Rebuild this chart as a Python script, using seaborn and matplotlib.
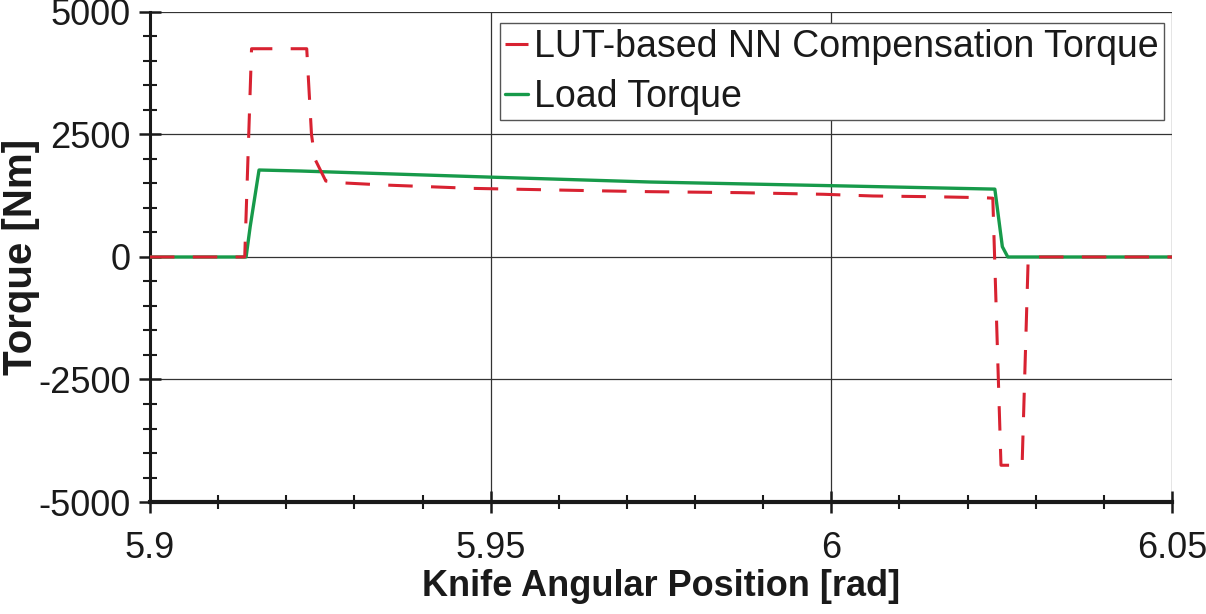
import matplotlib
matplotlib.use("Agg")
import matplotlib.pyplot as plt
from matplotlib.ticker import MultipleLocator
import numpy as np
import pandas as pd
import seaborn as sns

# values
x_lut = [5.9, 5.9139, 5.9149, 5.9230, 5.9237, 5.9242, 5.9258, 5.9279, 5.9342,
         5.9474, 5.9660, 5.9734, 5.9866, 5.9988, 6.0061, 6.0149, 6.0223,
         6.0237, 6.0249, 6.0280, 6.0289, 6.05]
y_lut = [0, 0, 4250, 4250, 2500, 2000, 1550, 1515, 1470,
         1400, 1350, 1333, 1313, 1280, 1245, 1230, 1210,
         1200, -4250, -4250, 0, 0]

x_load = [5.9, 5.9141, 5.9147, 5.9160, 5.9220, 5.9499, 5.9734, 6.0000,
          6.0240, 6.0251, 6.0259, 6.05]
y_load = [0, 0, 620, 1775, 1755, 1630, 1530, 1455,
          1385, 210, 0, 0]

x_tick_labels = ["5.9", "5.95", "6", "6.05"]
lut_label = "LUT-based NN Compensation Torque"
load_label = "Load Torque"

sns.set_style("white")
plt.rcParams["font.family"] = ["Liberation Sans", "DejaVu Sans"]
plt.rcParams["axes.unicode_minus"] = False

fig = plt.figure(figsize=(12.06, 6.14), dpi=100)
ax = fig.add_axes([0.1244, 0.1824, 0.8474, 0.7981])

df_lut = pd.DataFrame({"x": x_lut, "y": y_lut})
df_load = pd.DataFrame({"x": x_load, "y": y_load})

sns.lineplot(data=df_lut, x="x", y="y", ax=ax, color="#d82231", lw=2.2,
             sort=False, estimator=None, label=lut_label, zorder=4)
ax.lines[-1].set_dashes([8, 6])
sns.lineplot(data=df_load, x="x", y="y", ax=ax, color="#179a4a", lw=2.4,
             sort=False, estimator=None, label=load_label, zorder=3)

ax.set_xlim(5.9, 6.05)
ax.set_ylim(-5000, 5000)
ax.set_xticks([5.9, 5.95, 6.0, 6.05])
ax.set_xticklabels(x_tick_labels)
ax.xaxis.set_minor_locator(MultipleLocator(0.01))
ax.yaxis.set_major_locator(MultipleLocator(2500))
ax.yaxis.set_minor_locator(MultipleLocator(500))

ax.grid(True, which="major", color="#333333", lw=0.9, zorder=1)
ax.set_axisbelow(True)

for s in ["top", "right"]:
    ax.spines[s].set_visible(False)
ax.spines["left"].set_linewidth(2.2)
ax.spines["bottom"].set_linewidth(3.0)
ax.spines["left"].set_color("#1a1a1a")
ax.spines["bottom"].set_color("#1a1a1a")

ax.tick_params(which="both", bottom=True, left=True, top=False, right=False)
ax.tick_params(which="major", direction="inout", length=16, width=1.8,
               color="#1a1a1a", labelsize=26, pad=6, labelcolor="#1a1a1a")
ax.tick_params(which="minor", direction="inout", length=10, width=1.5,
               color="#1a1a1a")
ax.tick_params(axis="x", which="major", pad=13)

ax.set_xlabel("Knife Angular Position [rad]", fontsize=26, fontweight="bold",
              labelpad=2, color="#1a1a1a")
ax.set_ylabel("Torque [Nm]", fontsize=29, fontweight="bold",
              color="#1a1a1a")
ax.yaxis.set_label_coords(-0.108, 0.5)

leg = ax.legend(loc="upper right", bbox_to_anchor=(0.992, 0.977), fontsize=27,
                frameon=True, fancybox=False, handlelength=0.6,
                handletextpad=0.15, borderpad=0.15, labelspacing=0.37,
                borderaxespad=0)
leg.get_frame().set_edgecolor("#555555")
leg.get_frame().set_linewidth(1.0)
leg.get_frame().set_alpha(1)
for t in leg.get_texts():
    t.set_color("#1a1a1a")

fig.savefig("out.png", dpi=100)
